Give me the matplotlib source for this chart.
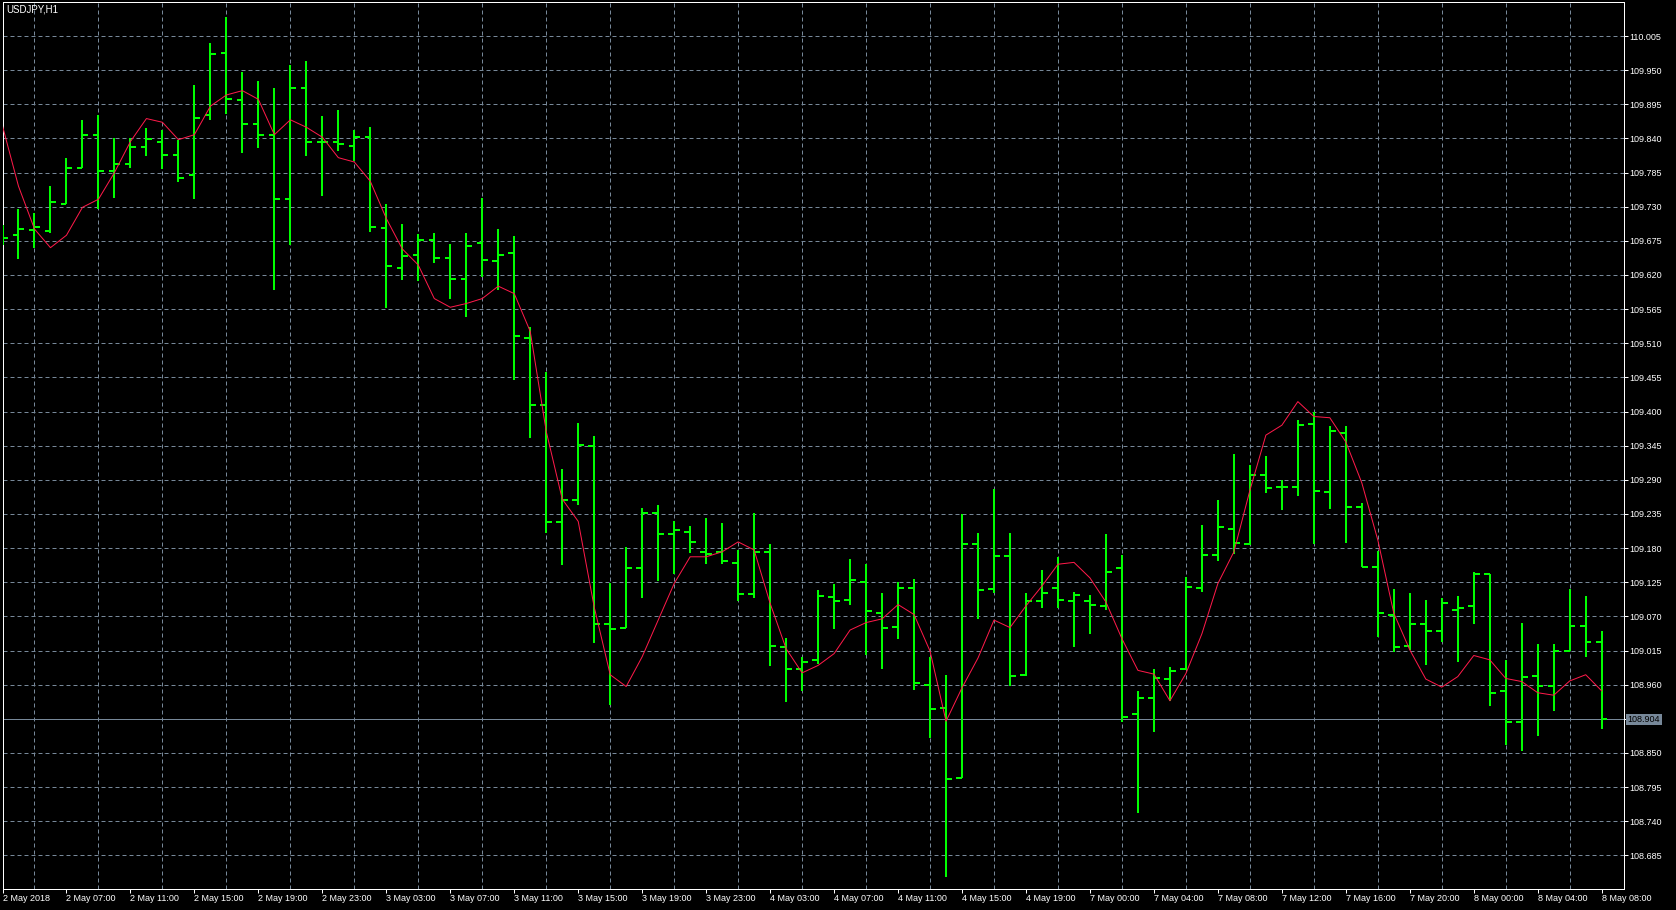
import numpy as np
import matplotlib
matplotlib.use("Agg")
import matplotlib.pyplot as plt
from matplotlib.transforms import blended_transform_factory

plt.rcParams['font.family'] = ['Liberation Sans', 'DejaVu Sans']

# USDJPY H1, 2 May 03:00 .. 8 May 08:00 (101 bars)
opens = [109.690, 109.685, 109.693, 109.691, 109.735, 109.792, 109.845, 109.788, 109.799, 109.826,
         109.835, 109.813, 109.781, 109.877, 109.977, 109.902, 109.863, 109.846, 109.742, 109.922,
         109.835, 109.835, 109.827, 109.843, 109.696, 109.632, 109.652, 109.677, 109.648, 109.614,
         109.672, 109.643, 109.656, 109.519, 109.411, 109.222, 109.257, 109.345, 109.058, 109.052,
         109.148, 109.236, 109.202, 109.206, 109.174, 109.173, 109.156, 109.106, 109.174, 109.021,
         108.985, 108.999, 109.102, 109.096, 109.125, 109.075, 109.053, 109.116, 108.959, 108.922,
         108.810, 109.187, 109.114, 109.167, 108.975, 109.095, 109.116, 109.095, 109.095, 109.087,
         109.148, 108.912, 108.939, 108.969, 108.985, 109.116, 109.169, 109.211, 109.187, 109.297,
         109.279, 109.279, 109.380, 109.271, 109.366, 109.246, 109.149, 109.073, 109.023, 109.058,
         109.046, 109.080, 109.086, 109.138, 108.949, 108.900, 108.974, 108.958, 109.015, 109.054,
         109.029]
highs = [109.700, 109.726, 109.720, 109.763, 109.808, 109.869, 109.878, 109.841, 109.841, 109.856,
         109.853, 109.838, 109.926, 109.993, 110.035, 109.947, 109.933, 109.922, 109.958, 109.965,
         109.876, 109.885, 109.853, 109.859, 109.734, 109.702, 109.686, 109.688, 109.670, 109.687,
         109.744, 109.694, 109.683, 109.536, 109.464, 109.307, 109.381, 109.360, 109.124, 109.182,
         109.244, 109.250, 109.224, 109.216, 109.229, 109.221, 109.177, 109.237, 109.187, 109.035,
         109.004, 109.112, 109.122, 109.162, 109.155, 109.107, 109.125, 109.130, 109.004, 108.975,
         109.235, 109.205, 109.275, 109.205, 109.107, 109.144, 109.166, 109.110, 109.105, 109.203,
         109.169, 108.949, 108.986, 108.988, 109.133, 109.217, 109.257, 109.331, 109.314, 109.328,
         109.289, 109.387, 109.400, 109.377, 109.376, 109.252, 109.176, 109.114, 109.107, 109.096,
         109.099, 109.103, 109.141, 109.138, 108.999, 109.059, 109.026, 109.026, 109.114, 109.103,
         109.047]
lows = [109.668, 109.646, 109.663, 109.688, 109.734, 109.792, 109.727, 109.744, 109.793, 109.811,
        109.790, 109.769, 109.743, 109.869, 109.879, 109.816, 109.824, 109.596, 109.669, 109.812,
        109.747, 109.819, 109.803, 109.690, 109.567, 109.612, 109.611, 109.639, 109.582, 109.553,
        109.617, 109.596, 109.451, 109.358, 109.204, 109.153, 109.249, 109.027, 108.927, 109.051,
        109.100, 109.127, 109.138, 109.172, 109.155, 109.155, 109.095, 109.100, 108.990, 108.932,
        108.950, 108.993, 109.050, 109.089, 109.008, 108.985, 109.034, 108.951, 108.874, 108.650,
        108.810, 109.065, 109.108, 108.958, 108.974, 109.083, 109.083, 109.021, 109.042, 109.080,
        108.900, 108.754, 108.883, 108.934, 108.984, 109.110, 109.160, 109.171, 109.185, 109.268,
        109.241, 109.264, 109.186, 109.243, 109.188, 109.150, 109.036, 109.013, 109.016, 108.992,
        109.029, 108.997, 109.058, 108.926, 108.863, 108.853, 108.878, 108.918, 109.015, 109.005,
        108.888]
closes = [109.679, 109.694, 109.698, 109.737, 109.793, 109.845, 109.787, 109.799, 109.826, 109.839,
          109.813, 109.776, 109.873, 109.976, 109.903, 109.863, 109.845, 109.742, 109.922, 109.835,
          109.835, 109.831, 109.842, 109.697, 109.634, 109.651, 109.676, 109.648, 109.614, 109.667,
          109.644, 109.652, 109.522, 109.411, 109.222, 109.257, 109.346, 109.058, 109.050, 109.148,
          109.237, 109.202, 109.209, 109.190, 109.170, 109.160, 109.106, 109.174, 109.022, 108.986,
          108.997, 109.103, 109.095, 109.129, 109.079, 109.051, 109.116, 108.962, 108.921, 108.808,
          109.187, 109.112, 109.168, 108.974, 109.095, 109.108, 109.096, 109.104, 109.088, 109.141,
          108.908, 108.939, 108.971, 108.982, 109.118, 109.169, 109.214, 109.189, 109.297, 109.277,
          109.279, 109.379, 109.272, 109.368, 109.246, 109.150, 109.075, 109.021, 109.058, 109.046,
          109.091, 109.084, 109.138, 108.947, 108.900, 108.973, 108.958, 109.015, 109.054, 109.029,
          108.904]
ma = [109.860, 109.763, 109.694, 109.664, 109.684, 109.729, 109.742, 109.785, 109.835, 109.872,
      109.866, 109.838, 109.846, 109.892, 109.910, 109.917, 109.903, 109.846, 109.870, 109.858,
      109.842, 109.809, 109.802, 109.771, 109.711, 109.662, 109.636, 109.582, 109.568, 109.574,
      109.582, 109.602, 109.590, 109.529, 109.368, 109.259, 109.223, 109.085, 108.976, 108.957,
      109.005, 109.064, 109.123, 109.166, 109.166, 109.174, 109.190, 109.177, 109.091, 109.018,
      108.979, 108.991, 109.010, 109.048, 109.060, 109.066, 109.089, 109.073, 109.014, 108.901,
      108.955, 109.003, 109.064, 109.052, 109.087, 109.119, 109.154, 109.157, 109.132, 109.093,
      109.034, 108.983, 108.977, 108.934, 108.978, 109.042, 109.123, 109.174, 109.273, 109.362,
      109.378, 109.416, 109.392, 109.390, 109.351, 109.285, 109.193, 109.075, 109.016, 108.969,
      108.956, 108.973, 109.007, 109.000, 108.970, 108.965, 108.947, 108.943, 108.966, 108.976,
      108.950]

time_labels = ["2 May 2018", "2 May 07:00", "2 May 11:00", "2 May 15:00", "2 May 19:00",
               "2 May 23:00", "3 May 03:00", "3 May 07:00", "3 May 11:00", "3 May 15:00",
               "3 May 19:00", "3 May 23:00", "4 May 03:00", "4 May 07:00", "4 May 11:00",
               "4 May 15:00", "4 May 19:00", "7 May 00:00", "7 May 04:00", "7 May 08:00",
               "7 May 12:00", "7 May 16:00", "7 May 20:00", "8 May 00:00", "8 May 04:00",
               "8 May 08:00"]
label_step = 4
price_ticks = [round(110.005 - 0.055 * k, 3) for k in range(25)]
bid = 108.904
symbol = "USDJPY,H1"

W, H = 1676, 910
BAR_COL = '#00ff00'
GRID_COL = '#778899'
MA_COL = '#ff1a4a'
PX = 0.72  # one pixel in points at 100 dpi

fig = plt.figure(figsize=(W / 100, H / 100), dpi=100, facecolor='black')
ax = fig.add_axes([2.5 / W, 21 / H, 1621.2 / W, 886.7 / H], facecolor='black')

x = np.arange(len(closes))
tick_len = 0.36

# OHLC bars
ax.vlines(x, lows, highs, color=BAR_COL, linewidth=2 * PX, capstyle='butt', zorder=3)
ax.hlines(opens, x - tick_len, x, color=BAR_COL, linewidth=2 * PX, zorder=3)
ax.hlines(closes, x, x + tick_len, color=BAR_COL, linewidth=2 * PX, zorder=3)

# moving average
ax.plot(x, ma, color=MA_COL, linewidth=PX, zorder=4)

# bid line
ax.axhline(bid, color=GRID_COL, linewidth=PX, zorder=2)

ax.set_xlim(0.05, 101.375)
ax.set_ylim(108.6308, 110.0593)

# x axis
ax.set_xticks(x[::label_step])
ax.set_xticklabels(time_labels, ha='left')
ax.set_xticks(x[::2], minor=True)
ax.tick_params(axis='x', which='major', colors='white', length=4 * PX, width=PX,
               labelsize=6.5, pad=1)
ax.tick_params(axis='x', which='minor', length=0)

# y axis on the right
ax.yaxis.tick_right()
ax.set_yticks(price_ticks)
ax.set_yticklabels(['' if abs(p - bid) < 0.003 else f"{p:.3f}" for p in price_ticks])
ax.tick_params(axis='y', colors='white', length=4 * PX, width=PX, labelsize=6.5, pad=1.5)

ax.grid(True, which='minor', axis='x', color=GRID_COL, linewidth=PX, linestyle=(0, (4, 3)), zorder=1)
ax.grid(True, which='major', axis='y', color=GRID_COL, linewidth=PX, linestyle=(0, (4, 3)), zorder=1)
ax.set_axisbelow(True)

for s in ax.spines.values():
    s.set_color('white')
    s.set_linewidth(PX)

# bid price label
tr = blended_transform_factory(ax.transAxes, ax.transData)
ax.text(1.0025, bid, f"{bid:.3f}", transform=tr, fontsize=6.5, color='black',
        va='center', ha='left', clip_on=False,
        bbox=dict(boxstyle='square,pad=0.15', facecolor=GRID_COL, edgecolor='none'))

# chart caption
fig.text(6.5 / W, 1 - 4 / H, symbol, color='white', fontsize=7, ha='left', va='top')

fig.savefig('out.png', dpi=100, facecolor='black')
